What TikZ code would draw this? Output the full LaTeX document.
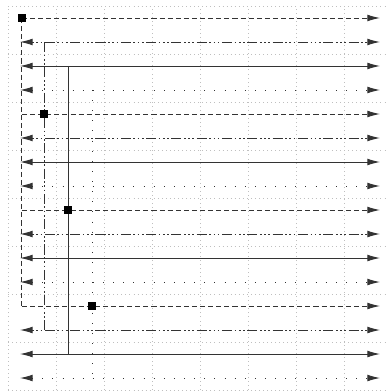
\documentclass[tikz,border=0pt]{standalone}
\usetikzlibrary{arrows.meta}

\tikzset{
  gridline/.style={gray!50, line width=0.4pt, dotted},
  dashpat/.style={dash pattern=on 3pt off 1.8pt},
  ddpat/.style={dash pattern=on 6pt off 1.5pt on 1pt off 1.5pt on 1pt off 1.5pt on 1pt off 1.5pt, dash phase=7.5pt},
  sparsedots/.style={dash pattern=on 0.6pt off 5.4pt},
  sqmark/.style={rectangle, fill=black, inner sep=0pt, minimum size=4.5pt}
}

\begin{document}
\begin{tikzpicture}[x=0.5cm, y=0.5cm, line width=0.55pt, draw=black!80, >={Latex[length=7.5pt,width=4pt]}]
  \useasboundingbox (-0.333,-0.083) rectangle (15.75,16.25);
  % Grid
  \draw[gridline] (0,0) grid (16,16);

  % Row end points
  \foreach \k in {0,...,15} {
    \coordinate (L\k) at (0.5, 15.5-\k);
    \coordinate (R\k) at (15.5, 15.5-\k);
  }
  % Trunk branch points
  \foreach \s/\tx in {0/0.58, 1/1.5, 2/2.5, 3/3.5}
    \foreach \j in {0,...,3}
      \coordinate (T\s-\j) at (\tx, 15.5-4*\j-\s);

  % Dashed rows
  \draw[dashpat] (T0-0) -- (T0-3);
  \foreach \j in {0,...,3} {
    \pgfmathtruncatemacro\k{4*\j}
    \draw[dashpat, ->] (T0-\j) -- (R\k);
  }

  % Dash dot dot rows
  \draw[ddpat, dash phase=0pt] (T1-0) -- (T1-3);
  \foreach \j in {0,...,3} {
    \pgfmathtruncatemacro\k{4*\j+1}
    \draw[ddpat, <->] (L\k) -- (R\k);
  }

  % Solid rows
  \draw (T2-0) -- (T2-3);
  \foreach \j in {0,...,3} {
    \pgfmathtruncatemacro\k{4*\j+2}
    \draw[<->] (L\k) -- (R\k);
  }

  % Dotted rows
  \draw[sparsedots] (T3-0) -- (T3-3);
  \foreach \j in {0,...,3} {
    \pgfmathtruncatemacro\k{4*\j+3}
    \draw[sparsedots, <->] (L\k) -- (R\k);
  }

  % Square markers on the dashed rows
  \foreach \j/\tx in {0/0.58, 1/1.5, 2/2.5, 3/3.5} {
    \pgfmathtruncatemacro\k{4*\j}
    \node[sqmark] (sq\j) at (\tx, 15.5-\k) {};
  }
\end{tikzpicture}
\end{document}
